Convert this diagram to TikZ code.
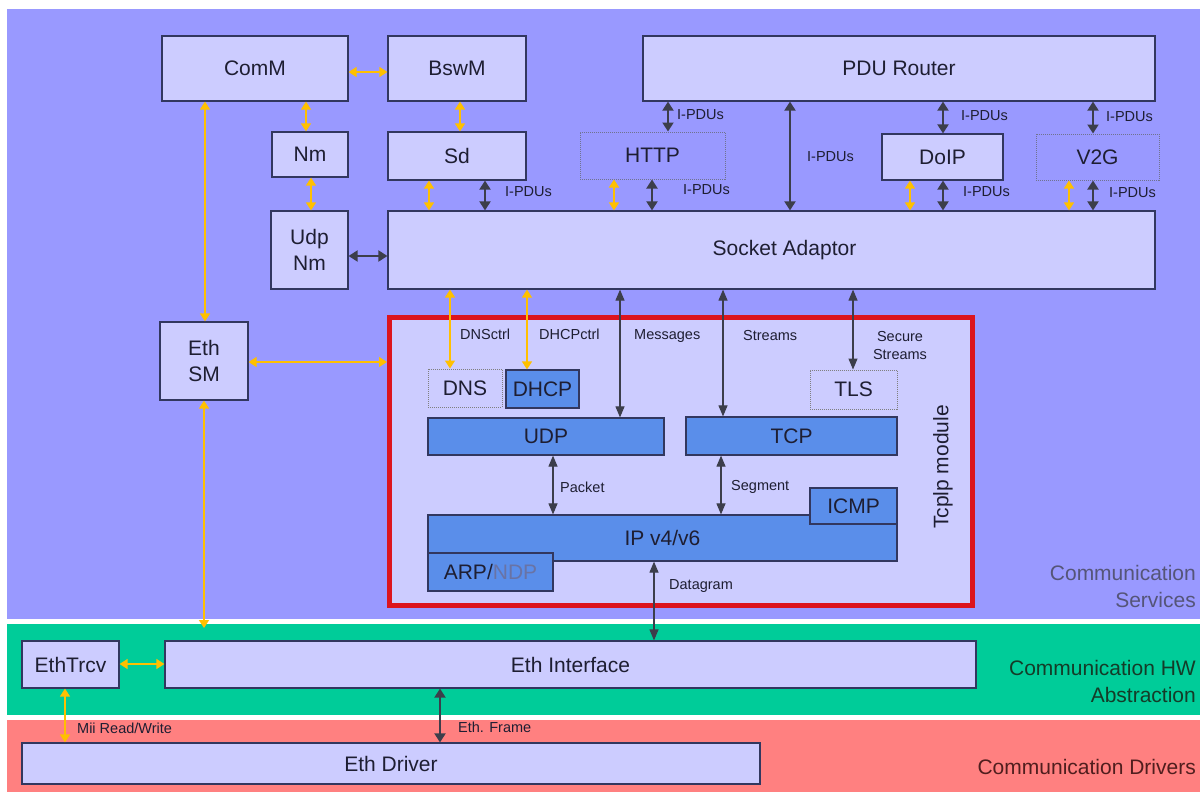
\documentclass[tikz,border=0pt]{standalone}
\usepackage{fontspec}
\setmainfont{Liberation Sans}
\usetikzlibrary{arrows.meta}
\definecolor{bgblue}{RGB}{153,153,255}
\definecolor{bggreen}{RGB}{0,204,153}
\definecolor{bgred}{RGB}{255,128,128}
\definecolor{boxfill}{RGB}{204,204,255}
\definecolor{boxline}{RGB}{50,55,95}
\definecolor{bluebox}{RGB}{90,142,234}
\definecolor{tcpred}{RGB}{220,20,30}
\definecolor{yel}{RGB}{255,192,0}
\definecolor{darr}{RGB}{60,62,75}
\definecolor{txt}{RGB}{30,30,50}
\definecolor{ndp}{RGB}{105,115,165}
\definecolor{svc}{RGB}{85,85,120}
\definecolor{hwc}{RGB}{20,60,40}
\definecolor{drc}{RGB}{80,30,30}
\newcommand\bx[7]{\node[#1, minimum width={(#4-#2)*1pt}, minimum height={(#5-#3)*1pt}] (#7) at ({(#2+#4)/2},{(#3+#5)/2}) {#6};}
\begin{document}
\begin{tikzpicture}[x=1pt,y=-1pt,
 every node/.style={font=\fontsize{21}{26}\selectfont, text=txt},
 mod/.style={draw=boxline, line width=1.2pt, fill=boxfill, inner sep=0pt, align=center},
 dotmod/.style={draw=boxline!70, densely dotted, line width=1pt, fill=bgblue, inner sep=0pt, align=center},
 dotin/.style={draw=gray, densely dotted, line width=1pt, fill=boxfill, inner sep=0pt, align=center},
 bmod/.style={draw=boxline, line width=1.2pt, fill=bluebox, inner sep=0pt, align=center},
 tcpbox/.style={draw=tcpred, line width=5pt, fill=boxfill, inner sep=0pt},
 darkarr/.style={draw=darr, line width=2pt, {Triangle[width=11pt,length=9pt]}-{Triangle[width=11pt,length=9pt]}},
 darkthin/.style={draw=darr, line width=1.1pt, {Triangle[width=9pt,length=11pt]}-{Triangle[width=9pt,length=11pt]}},
 yarr/.style={draw=yel, line width=1.3pt, {Triangle[width=10pt,length=8pt]}-{Triangle[width=10pt,length=8pt]}},
 lbl/.style={font=\fontsize{14.5}{18}\selectfont, text=txt, inner sep=0pt, anchor=west},
 band/.style={inner sep=0pt, anchor=east, align=right, font=\fontsize{21}{27}\selectfont},
]
\useasboundingbox (0,0) rectangle (1200,792);
\fill[white] (0,0) rectangle (1200,792);
\fill[bgblue] (7,9) rectangle (1200,619);
\fill[bggreen] (7,624) rectangle (1200,715);
\fill[bgred] (7,720) rectangle (1200,792);

% band labels
\node[band, text=svc] (lsvc) at (1196,586) {Communication\\Services};
\node[band, text=hwc] (lhw) at (1196,681) {Communication HW\\Abstraction};
\node[band, text=drc] (ldrv) at (1196,767) {Communication Drivers};

% upper modules
\bx{mod}{162}{36}{348}{101}{ComM}{comm}
\bx{mod}{388}{36}{526}{101}{BswM}{bswm}
\bx{mod}{643}{36}{1155}{101}{PDU Router}{pdur}
\bx{mod}{272}{132}{348}{177}{Nm}{nm}
\bx{mod}{388}{132}{526}{180}{Sd}{sd}
\bx{dotmod}{580}{132}{725}{179}{HTTP}{http}
\bx{mod}{882}{134}{1003}{180}{DoIP}{doip}
\bx{dotmod}{1036}{134}{1159}{180}{V2G}{vtg}
\bx{mod}{271}{211}{348}{289}{Udp\\Nm}{udpnm}
\bx{mod}{388}{211}{1155}{289}{\hspace*{26pt}Socket Adaptor}{soad}
\bx{mod}{160}{322}{248}{400}{Eth\\SM}{ethsm}

% TcpIp module
\bx{tcpbox}{389.5}{317.5}{972.5}{605.5}{}{tcpip}
\bx{dotin}{428}{369}{502}{407}{DNS}{dns}
\bx{bmod}{506}{370}{579}{408}{DHCP}{dhcp}
\bx{dotin}{810}{370}{897}{409}{TLS}{tls}
\bx{bmod}{428}{418}{664}{455}{UDP}{udp}
\bx{bmod}{686}{417}{897}{455}{TCP}{tcp}
\bx{bmod}{428}{515}{897}{561}{IP v4/v6}{ip}
\bx{bmod}{810}{488}{897}{524}{ICMP}{icmp}
\bx{bmod}{428}{553}{553}{591}{ARP/\textcolor{ndp}{NDP}}{arp}
\node[rotate=90] (tcplbl) at (943,467) {Tcplp module};

% lower modules
\bx{mod}{22}{641}{119}{688}{EthTrcv}{ethtrcv}
\bx{mod}{165}{641}{976}{688}{Eth Interface}{ethif}
\bx{mod}{22}{743}{760}{784}{Eth Driver}{ethdrv}
\coordinate (hwtop) at (204,628);

% connectors upper
\draw[yarr] (comm.east |- 0,72) -- (bswm.west |- 0,72);
\draw[yarr] (comm.south -| 306,0) -- (nm.north -| 306,0);
\draw[yarr] (bswm.south -| 460,0) -- (sd.north -| 460,0);
\draw[yarr] (nm.south -| 311,0) -- (udpnm.north -| 311,0);
\draw[yarr] (sd.south -| 429,0) -- (soad.north -| 429,0);
\draw[darkarr] (sd.south -| 485,0) -- (soad.north -| 485,0);
\draw[darkarr] (udpnm.east |- 0,256) -- (soad.west |- 0,256);
\draw[darkarr] (pdur.south -| 668,0) -- (http.north -| 668,0);
\draw[darkarr] (pdur.south -| 790,0) -- (soad.north -| 790,0);
\draw[darkarr] (pdur.south -| 943,0) -- (doip.north -| 943,0);
\draw[darkarr] (pdur.south -| 1093,0) -- (vtg.north -| 1093,0);
\draw[yarr] (http.south -| 614,0) -- (soad.north -| 614,0);
\draw[darkarr] (http.south -| 652,0) -- (soad.north -| 652,0);
\draw[yarr] (doip.south -| 910,0) -- (soad.north -| 910,0);
\draw[darkarr] (doip.south -| 943,0) -- (soad.north -| 943,0);
\draw[yarr] (vtg.south -| 1069,0) -- (soad.north -| 1069,0);
\draw[darkarr] (vtg.south -| 1093,0) -- (soad.north -| 1093,0);
\draw[yarr] (comm.south -| 205,0) -- (ethsm.north -| 205,0);
\draw[yarr] (ethsm.east |- 0,362) -- (tcpip.west |- 0,362);
\draw[yarr] (ethsm.south -| 204,0) -- (hwtop);

% connectors tcpip
\draw[yarr] (soad.south -| 450,0) -- (dns.north -| 450,0);
\draw[yarr] (soad.south -| 527,0) -- (dhcp.north -| 527,0);
\draw[darkthin] (soad.south -| 620,0) -- (udp.north -| 620,0);
\draw[darkthin] (soad.south -| 723,0) -- (tcp.north -| 723,0);
\draw[darkthin] (soad.south -| 853,0) -- (tls.north -| 853,0);
\draw[darkthin] (udp.south -| 553,0) -- (ip.north -| 553,0);
\draw[darkthin] (tcp.south -| 721,0) -- (ip.north -| 721,0);
\draw[darkthin] (ip.south -| 654,0) -- (ethif.north -| 654,0);

% connectors lower
\draw[yarr] (ethtrcv.east |- 0,664) -- (ethif.west |- 0,664);
\draw[yarr] (ethtrcv.south -| 65,0) -- (ethdrv.north -| 65,0);
\draw[darkarr] (ethif.south -| 440,0) -- (ethdrv.north -| 440,0);

% labels
\node[lbl] (l1) at (505,192) {I-PDUs};
\node[lbl] (l2) at (677,115) {I-PDUs};
\node[lbl] (l3) at (807,157) {I-PDUs};
\node[lbl] (l4) at (961,116) {I-PDUs};
\node[lbl] (l5) at (1106,117) {I-PDUs};
\node[lbl] (l6) at (683,190) {I-PDUs};
\node[lbl] (l7) at (963,192) {I-PDUs};
\node[lbl] (l8) at (1109,193) {I-PDUs};
\node[lbl] (l9) at (460,334) {DNSctrl};
\node[lbl] (l10) at (539,334) {DHCPctrl};
\node[lbl] (l11) at (634,336) {Messages};
\node[lbl] (l12) at (743,336) {Streams};
\node[lbl, anchor=center, align=center] (l13) at (900,346) {Secure\\Streams};
\node[lbl] (l14) at (560,487) {Packet};
\node[lbl] (l15) at (731,487) {Segment};
\node[lbl] (l16) at (669,586) {Datagram};
\node[lbl] (l17) at (77,728) {Mii Read/Write};
\node[lbl] (l18) at (458,727) {Eth. Frame};
\end{tikzpicture}
\end{document}
